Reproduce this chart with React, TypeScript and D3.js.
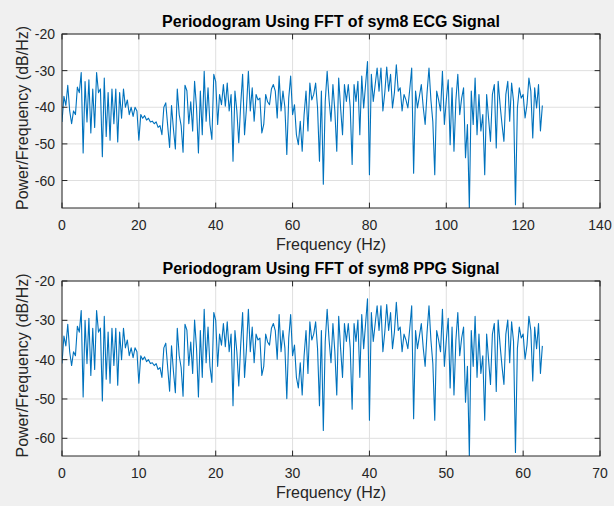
import React from "react";
import * as d3 from "d3";

// Periodogram values (dB/Hz), ECG at 0.5 Hz steps (0..125 Hz)
const ecgPower: number[] = [
  -44, -37, -39.5, -34, -41, -44.5, -41, -42, -34.5, -36,
  -30.5, -52.5, -33, -44, -32.5, -47, -35, -45.5, -30.5, -36,
  -35, -53.5, -32, -48, -36, -49, -35, -44.5, -35, -49.5,
  -36, -43, -35, -40, -38, -42, -40, -42.5, -40, -41,
  -49, -42, -43, -42.3, -43.5, -43, -44, -43.8, -44.5, -44,
  -45.5, -45, -47.5, -40, -38.8, -45, -51, -39.5, -46, -51.4,
  -35, -42, -45, -52.3, -34, -35.5, -44.5, -38.5, -46.5, -32.9,
  -40, -52.5, -35.6, -47.5, -30.2, -43.8, -34.7, -44.7, -48.8, -31,
  -33, -44.7, -36.5, -39.3, -33.8, -39.7, -33.4, -41, -36.5, -54.7,
  -35.6, -41, -49.7, -39.3, -31, -47.5, -40.2, -30.2, -41, -34.7,
  -43.8, -36.5, -38, -37.5, -47, -44.7, -36.5, -38.5, -39.3, -35,
  -33.8, -35.6, -42.9, -31.5, -41, -35.6, -40, -52.9, -37.5, -31.5,
  -42, -39.3, -47.5, -50.2, -43.8, -52, -42, -35.6, -46.5, -33.4,
  -38, -36.5, -33.4, -40.2, -54.7, -35.6, -61, -38.4, -30.2, -38,
  -43.8, -33.8, -41, -52, -32, -40.2, -47.5, -33.8, -38.4, -33.8,
  -40, -55.6, -33.8, -38.4, -32.9, -47.5, -31.5, -40.2, -33.8, -27.5,
  -58.4, -31, -38.4, -33.8, -29.3, -35.6, -29.3, -41, -36, -29,
  -35.6, -31, -40.2, -36, -28.4, -35.6, -34.7, -41, -36.5, -38,
  -40.2, -35, -29.3, -58, -35.6, -40.2, -37, -33.8, -40, -44.7,
  -36, -29.3, -38, -44, -58.4, -35.6, -38, -41, -30.2, -44.7,
  -38, -32.5, -50.2, -34.7, -52, -38, -31, -42, -37.5, -34.7,
  -53.8, -44.7, -67.5, -35.6, -44.7, -32, -47.5, -36.5, -46.5, -42,
  -58.4, -36.5, -43, -49.3, -36.5, -33.8, -51.1, -32.9, -39.3, -44.7,
  -49.3, -36.5, -32.9, -43.8, -33.4, -38.4, -66.6, -40.2, -34.7, -37.5,
  -36.5, -42.9, -39.3, -32, -35.6, -48.4, -34.7, -40.2, -33.8, -46.5,
  -39.5,
];

// PPG at 0.25 Hz steps (0..62.5 Hz)
const ppgPower: number[] = [
  -41, -34, -36.5, -31, -38, -41.5, -38, -39, -31.5, -33,
  -27.5, -49.5, -30, -41, -29.5, -44, -32, -42.5, -27.5, -33,
  -32, -50.5, -29, -45, -33, -46, -32, -41.5, -32, -46.5,
  -33, -40, -32, -37, -35, -39, -37, -39.5, -37, -38,
  -46, -39, -40, -39.3, -40.5, -40, -41, -40.8, -41.5, -41,
  -42.5, -42, -44.5, -37, -35.8, -42, -48, -36.5, -43, -48.4,
  -32, -39, -42, -49.3, -31, -32.5, -41.5, -35.5, -43.5, -29.9,
  -37, -49.5, -32.6, -44.5, -27.2, -40.8, -31.7, -41.7, -45.8, -28,
  -30, -41.7, -33.5, -36.3, -30.8, -36.7, -30.4, -38, -33.5, -51.7,
  -32.6, -38, -46.7, -36.3, -28, -44.5, -37.2, -27.2, -38, -31.7,
  -40.8, -33.5, -35, -34.5, -44, -41.7, -33.5, -35.5, -36.3, -32,
  -30.8, -32.6, -39.9, -28.5, -38, -32.6, -37, -49.9, -34.5, -28.5,
  -39, -36.3, -44.5, -47.2, -40.8, -49, -39, -32.6, -43.5, -30.4,
  -35, -33.5, -30.4, -37.2, -51.7, -32.6, -58, -35.4, -27.2, -35,
  -40.8, -30.8, -38, -49, -29, -37.2, -44.5, -30.8, -35.4, -30.8,
  -37, -52.6, -30.8, -35.4, -29.9, -44.5, -28.5, -37.2, -30.8, -24.5,
  -55.4, -28, -35.4, -30.8, -26.3, -32.6, -26.3, -38, -33, -26,
  -32.6, -28, -37.2, -33, -25.4, -32.6, -31.7, -38, -33.5, -35,
  -37.2, -32, -26.3, -55, -32.6, -37.2, -34, -30.8, -37, -41.7,
  -33, -26.3, -35, -41, -55.4, -32.6, -35, -38, -27.2, -41.7,
  -35, -29.5, -47.2, -31.7, -49, -35, -28, -39, -34.5, -31.7,
  -50.8, -41.7, -64.5, -32.6, -41.7, -29, -44.5, -33.5, -43.5, -39,
  -55.4, -33.5, -40, -46.3, -33.5, -30.8, -48.1, -29.9, -36.3, -41.7,
  -46.3, -33.5, -29.9, -40.8, -30.4, -35.4, -63.6, -37.2, -31.7, -34.5,
  -33.5, -39.9, -36.3, -29, -32.6, -45.4, -31.7, -37.2, -30.8, -43.5,
  -36.5,
];

const ECG_STEP = 0.5;
const PPG_STEP = 0.25;

const ecgXTicks = [0, 20, 40, 60, 80, 100, 120, 140];
const ppgXTicks = [0, 10, 20, 30, 40, 50, 60, 70];
const yTicks = [-60, -50, -40, -30, -20];

const titles = [
  "Periodogram Using FFT of sym8 ECG Signal",
  "Periodogram Using FFT of sym8 PPG Signal",
];
const xLabel = "Frequency (Hz)";
const yLabel = "Power/Frequency (dB/Hz)";

const W = 614;
const H = 506;
const FONT = "'Liberation Sans', Arial, Helvetica, sans-serif";
const AX = "#262626";
const GRID = "#dfdfdf";
const LINE = "#0072BD";

interface PanelProps {
  id: string;
  title: string;
  values: number[];
  step: number;
  xTicks: number[];
  top: number;
  bottom: number;
}

function Panel({ id, title, values, step, xTicks, top, bottom }: PanelProps) {
  const left = 62;
  const right = 600;
  const x = d3
    .scaleLinear()
    .domain([xTicks[0], xTicks[xTicks.length - 1]])
    .range([left, right]);
  const y = d3
    .scaleLinear()
    .domain([d3.min(values) as number, -20])
    .range([bottom, top]);
  const line = d3
    .line<number>()
    .x((_, i) => x(i * step))
    .y((d) => y(d));
  const tl = 5.4;
  const cy = (top + bottom) / 2;
  return (
    <g>
      <defs>
        <clipPath id={id}>
          <rect x={left} y={top} width={right - left} height={bottom - top} />
        </clipPath>
      </defs>
      <rect x={left} y={top} width={right - left} height={bottom - top} fill="#ffffff" />
      {xTicks.map((t) => (
        <line key={"gx" + t} x1={x(t)} x2={x(t)} y1={top} y2={bottom} stroke={GRID} strokeWidth={1} />
      ))}
      {yTicks.map((t) => (
        <line key={"gy" + t} x1={left} x2={right} y1={y(t)} y2={y(t)} stroke={GRID} strokeWidth={1} />
      ))}
      <path
        d={line(values) || ""}
        fill="none"
        stroke={LINE}
        strokeWidth={1.1}
        strokeLinejoin="round"
        clipPath={`url(#${id})`}
      />
      <rect x={left} y={top} width={right - left} height={bottom - top} fill="none" stroke={AX} strokeWidth={1} />
      {xTicks.map((t) => (
        <g key={"tx" + t}>
          <line x1={x(t)} x2={x(t)} y1={bottom} y2={bottom - tl} stroke={AX} strokeWidth={1} />
          <line x1={x(t)} x2={x(t)} y1={top} y2={top + tl} stroke={AX} strokeWidth={1} />
          <text x={x(t)} y={bottom + 22} textAnchor="middle" fontSize={14} fill={AX} fontFamily={FONT}>
            {t}
          </text>
        </g>
      ))}
      {yTicks.map((t) => (
        <g key={"ty" + t}>
          <line x1={left} x2={left + tl} y1={y(t)} y2={y(t)} stroke={AX} strokeWidth={1} />
          <line x1={right} x2={right - tl} y1={y(t)} y2={y(t)} stroke={AX} strokeWidth={1} />
          <text x={left - 7} y={y(t) + 5} textAnchor="end" fontSize={14} fill={AX} fontFamily={FONT}>
            {t}
          </text>
        </g>
      ))}
      <text
        x={(left + right) / 2}
        y={top - 7}
        textAnchor="middle"
        fontSize={16}
        fontWeight="bold"
        fill="#000"
        fontFamily={FONT}
      >
        {title}
      </text>
      <text x={(left + right) / 2} y={bottom + 42} textAnchor="middle" fontSize={16} fill={AX} fontFamily={FONT}>
        {xLabel}
      </text>
      <text
        transform={`translate(28,${cy - 3}) rotate(-90)`}
        textAnchor="middle"
        fontSize={16}
        fill={AX}
        fontFamily={FONT}
      >
        {yLabel}
      </text>
    </g>
  );
}

export default function App() {
  return (
    <svg
      width={W}
      height={H}
      style={{ position: "absolute", left: 0, top: 0, display: "block" }}
    >
      <rect x={0} y={0} width={W} height={H} fill="#f0f0f0" />
      <Panel id="clipEcg" title={titles[0]} values={ecgPower} step={ECG_STEP} xTicks={ecgXTicks} top={34} bottom={208} />
      <Panel id="clipPpg" title={titles[1]} values={ppgPower} step={PPG_STEP} xTicks={ppgXTicks} top={281} bottom={456} />
    </svg>
  );
}
